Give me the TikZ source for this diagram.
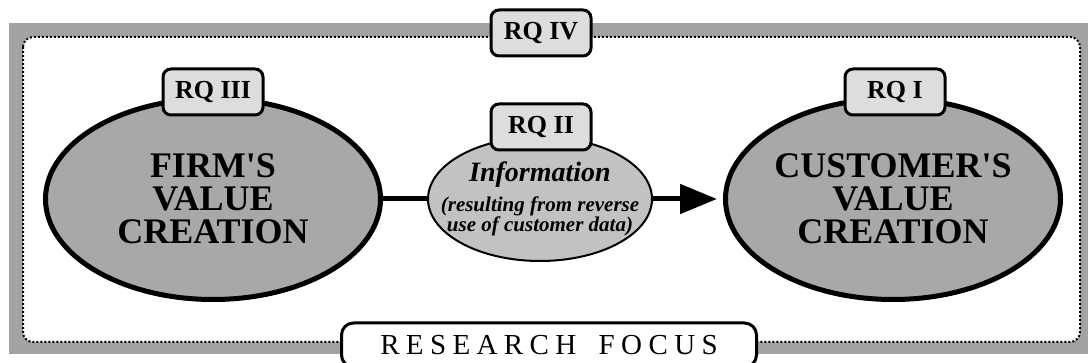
\documentclass[tikz,border=0pt]{standalone}
\usepackage{fontspec}
\setmainfont{Liberation Serif}[Ligatures=TeXOff]
\newfontfamily\spacedfont[LetterSpace=22]{Liberation Serif}
\usetikzlibrary{shapes.geometric,arrows.meta}

\definecolor{framegray}{HTML}{A3A3A3}
\definecolor{ellgray}{HTML}{A8A8A8}
\definecolor{infogray}{HTML}{C2C2C2}
\definecolor{boxgray}{HTML}{DDDDDD}

\begin{document}
\begin{tikzpicture}[x=1pt,y=-1pt,
	rq/.style={draw,line width=3pt,rounded corners=8pt,fill=boxgray,minimum width=100pt,minimum height=46pt,inner sep=0pt,font=\fontsize{26}{28}\selectfont\bfseries},
	value/.style={ellipse,draw,line width=5pt,fill=ellgray,minimum width=335pt,minimum height=201pt,inner sep=-30pt,align=center,font=\fontsize{36}{33}\selectfont\bfseries}]

			\clip (0,0) rectangle (1088,363);
			\fill [framegray](9,23) rectangle (1095,354);
			\draw [fill=white,line width=2pt,dash pattern=on 2pt off 2pt,rounded corners=10pt](23,37) rectangle (1080,342);

			\node [value](firm) at (213,199) {FIRM'S\\VALUE\\CREATION};
			\node [value](cust) at (893,199) {CUSTOMER'S\\VALUE\\CREATION};
			\node [ellipse,draw,line width=2pt,fill=infogray,minimum width=224pt,minimum height=124pt,inner sep=-40pt,align=center,font=\fontsize{21}{20}\selectfont\bfseries\itshape](info) at (540,199)
				{{\fontsize{28}{30}\selectfont Information}\\[9pt](resulting from reverse\\use of customer data)};

			\draw [line width=5pt](firm.east) -- (info.west);
			\draw [line width=5pt,-{Triangle[length=37pt,width=29pt]},shorten >=6pt](info.east) -- (cust.west);

			\node [rq](rq3) at (213,92) {RQ III};
			\node [rq](rq2) at (541,127) {RQ II};
			\node [rq](rq1) at (895,92) {RQ I};
			\node [rq](rq4) at (541,33) {RQ IV};

			\node [draw,line width=3pt,rounded corners=12pt,fill=white,minimum width=415pt,minimum height=44pt,anchor=north,inner sep=0pt](focus) at (549,321.5)
				{\fontsize{29}{30}\spacedfont RESEARCH\hspace{0.3em} FOCUS};

		\end{tikzpicture}
\end{document}
